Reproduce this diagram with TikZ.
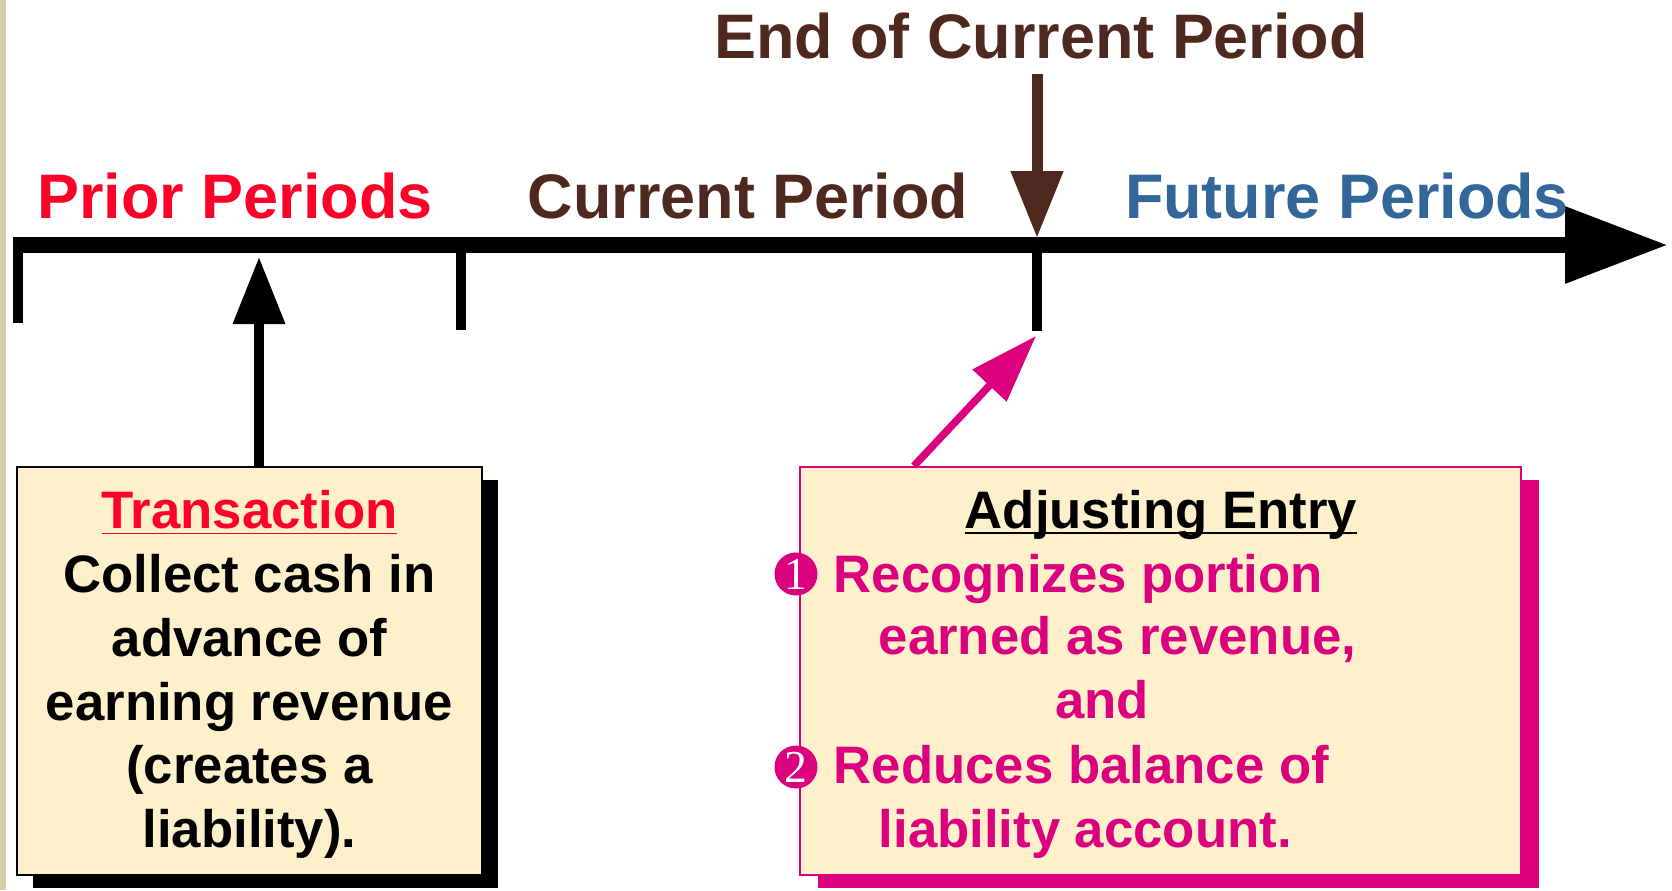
\documentclass[tikz,border=0pt]{standalone}
\usepackage{fontspec}
\setmainfont{Liberation Sans}
\newfontfamily\digitfont{Liberation Serif}
\usepackage{xcolor}
\usepackage{tikz}
\usetikzlibrary{arrows.meta,shadows,calc}
\definecolor{priorred}{HTML}{FF0029}
\definecolor{periodbrown}{HTML}{4F281F}
\definecolor{futureblue}{HTML}{336699}
\definecolor{entrypink}{HTML}{DB007D}
\definecolor{notefill}{HTML}{FFF0CC}
\definecolor{slidebeige}{HTML}{D9CCA8}

\begin{document}
\begin{tikzpicture}[x=0.1mm,y=-0.1mm,every node/.style={inner sep=0pt},
	hdr/.style={font=\fontsize{17.9}{21}\selectfont\bfseries,anchor=base},
	body/.style={font=\fontsize{15}{18.2}\selectfont\bfseries},
	entryline/.style={body,text=entrypink,anchor=base west},
	numdot/.style={circle,fill=entrypink,minimum size=4.3mm,text=white,font=\digitfont\fontsize{13}{13}\selectfont},
	tickmark/.style={line width=1mm},
	ptr/.style={line width=1mm,-{Triangle[length=6.7mm,width=5mm]}},
	notebox/.style={body,minimum width=#1,minimum height=40.8mm,fill=notefill}]
		\useasboundingbox (0,0) rectangle (1672,890);
		\fill[slidebeige] (0,0) rectangle (6,890);
		% time line
		\draw[line width=1.6mm,-{Triangle[length=10.3mm,width=7.3mm]}] (13,245) -- (1668,245);
		\coordinate (t0) at (18,245);
		\coordinate (t1) at (461,245);
		\coordinate (t2) at (1037,245);
		\draw[tickmark] (t0) -- ++(0,78);
		\draw[tickmark] (t1) -- ++(0,85);
		\draw[tickmark] (t2) -- ++(0,86);
		\node[hdr,priorred] (prior) at (235,218) {Prior Periods};
		\node[hdr,periodbrown] (curr) at (748,218) {Current Period};
		\node[hdr,futureblue] (future) at (1347,218) {Future Periods};
		\node[hdr,periodbrown] (endlbl) at (1041,58) {End of Current Period};
		\coordinate (eop) at (1037,238);
		\draw[ptr,line width=1.1mm,periodbrown,shorten <=1.6mm] (endlbl.base -| eop) -- (eop);
		% transaction box
		\node[notebox=46.5mm,draw=black,line width=0.5pt,align=center,
			drop shadow={shadow xshift=1.6mm,shadow yshift=-1.3mm,fill=black,opacity=1}] (tra) at (249.5,671)
			{\rule{0pt}{4.5mm}\textcolor{priorred}{\underline{Transaction}}\\Collect cash in\\advance of\\earning revenue\\(creates a\\liability).};
		\coordinate (txn) at (259,257);
		\draw[ptr] (tra.north -| txn) -- (txn);
		% adjusting entry box
		\node[notebox=72.1mm,draw=entrypink,line width=0.6pt,
			drop shadow={shadow xshift=1.8mm,shadow yshift=-1.3mm,fill=entrypink,opacity=1}] (adj) at (1160.5,671) {};
		\node[body,anchor=base] (adjttl) at (1161,528) {\underline{\smash{Adjusting Entry}}};
		\node[entryline] (l1) at (833,592) {Recognizes portion};
		\node[entryline] (l2) at (878,654) {earned as revenue,};
		\node[entryline,anchor=base] (l3) at (1102,718) {and};
		\node[entryline] (l4) at (833,783) {Reduces balance of};
		\node[entryline] (l5) at (878,847) {liability account.};
		\node[numdot] (n1) at (796,574) {1};
		\node[numdot] (n2) at (796,767) {2};
		\coordinate (adjtip) at (1036,336);
		\draw[line width=0.75mm,entrypink,-{Triangle[length=6.8mm,width=4.5mm]}] ($(adj.north west)+(115,0)$) -- (adjtip);
	\end{tikzpicture}
\end{document}
